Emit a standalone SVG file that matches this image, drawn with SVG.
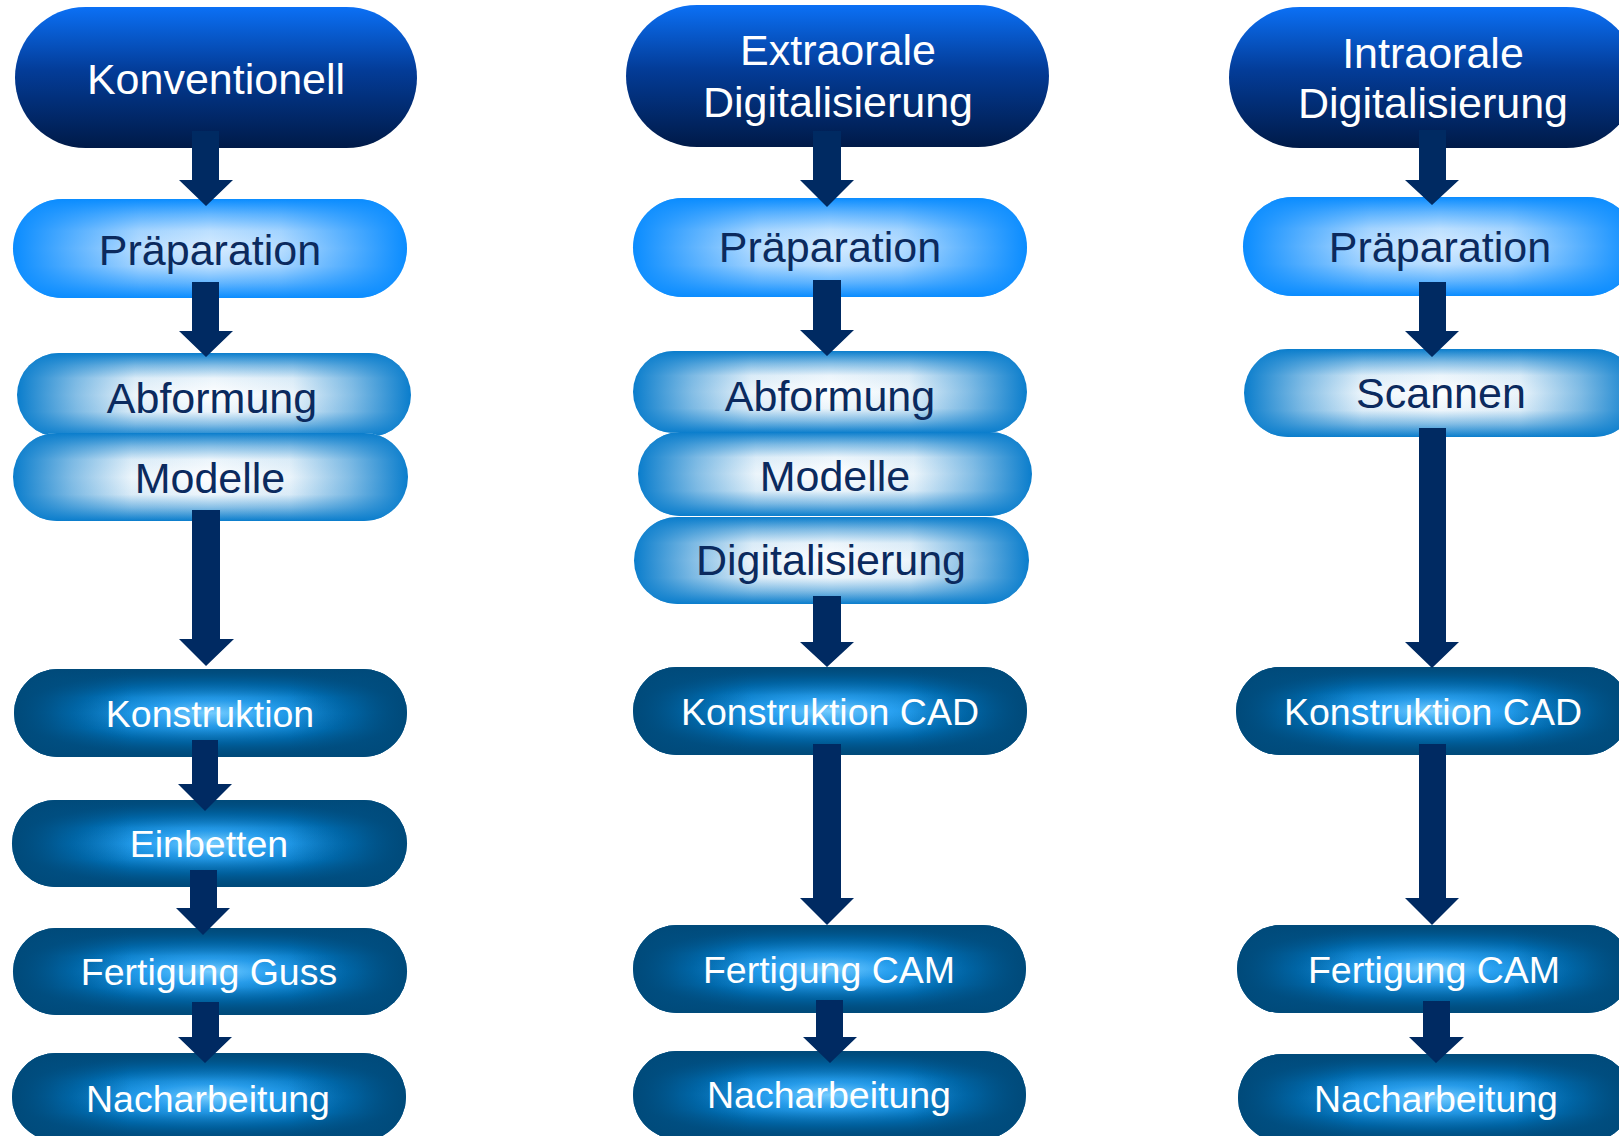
<svg xmlns="http://www.w3.org/2000/svg" width="1619" height="1136" viewBox="0 0 1619 1136">
<defs>
<linearGradient id="gTop" x1="0" y1="0" x2="0" y2="1">
<stop offset="0" stop-color="#0b70f5"/>
<stop offset="0.45" stop-color="#033c98"/>
<stop offset="1" stop-color="#001a48"/>
</linearGradient>
<!-- Präparation overlays -->
<linearGradient id="pV" x1="0" y1="0" x2="0" y2="1">
<stop offset="0" stop-color="#0a8cff" stop-opacity="1"/>
<stop offset="0.15" stop-color="#0a8cff" stop-opacity="0.6"/>
<stop offset="0.32" stop-color="#0a8cff" stop-opacity="0.2"/>
<stop offset="0.5" stop-color="#0a8cff" stop-opacity="0.08"/>
<stop offset="0.68" stop-color="#0a8cff" stop-opacity="0.2"/>
<stop offset="0.85" stop-color="#0a8cff" stop-opacity="0.6"/>
<stop offset="1" stop-color="#0a8cff" stop-opacity="1"/>
</linearGradient>
<linearGradient id="pH" x1="0" y1="0" x2="1" y2="0">
<stop offset="0" stop-color="#0a8cff" stop-opacity="1"/>
<stop offset="0.15" stop-color="#0a8cff" stop-opacity="0.6"/>
<stop offset="0.32" stop-color="#0a8cff" stop-opacity="0.15"/>
<stop offset="0.5" stop-color="#0a8cff" stop-opacity="0"/>
<stop offset="0.68" stop-color="#0a8cff" stop-opacity="0.15"/>
<stop offset="0.85" stop-color="#0a8cff" stop-opacity="0.6"/>
<stop offset="1" stop-color="#0a8cff" stop-opacity="1"/>
</linearGradient>
<!-- Light overlays -->
<linearGradient id="lV" x1="0" y1="0" x2="0" y2="1">
<stop offset="0" stop-color="#0a7dcc" stop-opacity="1"/>
<stop offset="0.15" stop-color="#0a7dcc" stop-opacity="0.5"/>
<stop offset="0.3" stop-color="#0a7dcc" stop-opacity="0.08"/>
<stop offset="0.5" stop-color="#0a7dcc" stop-opacity="0"/>
<stop offset="0.7" stop-color="#0a7dcc" stop-opacity="0.08"/>
<stop offset="0.85" stop-color="#0a7dcc" stop-opacity="0.5"/>
<stop offset="1" stop-color="#0a7dcc" stop-opacity="1"/>
</linearGradient>
<linearGradient id="lH" x1="0" y1="0" x2="1" y2="0">
<stop offset="0" stop-color="#0a7dcc" stop-opacity="1"/>
<stop offset="0.15" stop-color="#0a7dcc" stop-opacity="0.5"/>
<stop offset="0.3" stop-color="#0a7dcc" stop-opacity="0.08"/>
<stop offset="0.5" stop-color="#0a7dcc" stop-opacity="0"/>
<stop offset="0.7" stop-color="#0a7dcc" stop-opacity="0.08"/>
<stop offset="0.85" stop-color="#0a7dcc" stop-opacity="0.5"/>
<stop offset="1" stop-color="#0a7dcc" stop-opacity="1"/>
</linearGradient>
<!-- Dark -->
<radialGradient id="dB" cx="0.5" cy="0.5" r="0.5">
<stop offset="0" stop-color="#74ccff"/>
<stop offset="0.3" stop-color="#2aa2f2"/>
<stop offset="0.7" stop-color="#0078c4"/>
<stop offset="1" stop-color="#005a94"/>
</radialGradient>
<linearGradient id="dV" x1="0" y1="0" x2="0" y2="1">
<stop offset="0" stop-color="#004a7a" stop-opacity="1"/>
<stop offset="0.15" stop-color="#004a7a" stop-opacity="0.55"/>
<stop offset="0.32" stop-color="#004a7a" stop-opacity="0.1"/>
<stop offset="0.5" stop-color="#004a7a" stop-opacity="0"/>
<stop offset="0.68" stop-color="#004a7a" stop-opacity="0.1"/>
<stop offset="0.85" stop-color="#004a7a" stop-opacity="0.55"/>
<stop offset="1" stop-color="#004a7a" stop-opacity="1"/>
</linearGradient>
<linearGradient id="dH" x1="0" y1="0" x2="1" y2="0">
<stop offset="0" stop-color="#004a7a" stop-opacity="1"/>
<stop offset="0.12" stop-color="#004a7a" stop-opacity="0.5"/>
<stop offset="0.3" stop-color="#004a7a" stop-opacity="0"/>
<stop offset="0.7" stop-color="#004a7a" stop-opacity="0"/>
<stop offset="0.88" stop-color="#004a7a" stop-opacity="0.5"/>
<stop offset="1" stop-color="#004a7a" stop-opacity="1"/>
</linearGradient>
<style>
.top{fill:url(#gTop)}
.pb{fill:#e8f4ff}.pv{fill:url(#pV)}.ph{fill:url(#pH)}
.lb{fill:#ffffff}.lv{fill:url(#lV)}.lh{fill:url(#lH)}
.db{fill:url(#dB)}.dv{fill:url(#dV)}.dh{fill:url(#dH)}
text{font-family:"Liberation Sans",Arial,sans-serif;text-anchor:middle}
.tw{fill:#ffffff;font-size:43px}
.tn{fill:#0b2a5e;font-size:43px}
.ts{fill:#ffffff;font-size:37.5px}
.arrow{fill:#002a62}
</style>
</defs>
<rect width="1619" height="1136" fill="#ffffff"/>

<!-- Column 1 -->
<g id="k-konventionell"><rect class="top" x="15" y="7" width="402" height="141" rx="70.5"/><text class="tw" x="216" y="94">Konventionell</text></g>
<g id="k-praeparation"><rect class="pb" x="13" y="199" width="394" height="99" rx="49.5"/><rect class="pv" x="13" y="199" width="394" height="99" rx="49.5"/><rect class="ph" x="13" y="199" width="394" height="99" rx="49.5"/><text class="tn" x="210" y="265">Präparation</text></g>
<g id="k-abformung"><rect class="lb" x="17" y="353" width="394" height="84" rx="42"/><rect class="lv" x="17" y="353" width="394" height="84" rx="42"/><rect class="lh" x="17" y="353" width="394" height="84" rx="42"/><text class="tn" x="212" y="413">Abformung</text></g>
<g id="k-modelle"><rect class="lb" x="13" y="433" width="395" height="88" rx="44"/><rect class="lv" x="13" y="433" width="395" height="88" rx="44"/><rect class="lh" x="13" y="433" width="395" height="88" rx="44"/><text class="tn" x="210" y="493">Modelle</text></g>
<g id="k-konstruktion"><rect class="db" x="14" y="669" width="393" height="88" rx="44"/><rect class="dv" x="14" y="669" width="393" height="88" rx="44"/><rect class="dh" x="14" y="669" width="393" height="88" rx="44"/><text class="ts" x="210" y="727">Konstruktion</text></g>
<g id="k-einbetten"><rect class="db" x="12" y="800" width="395" height="87" rx="43.5"/><rect class="dv" x="12" y="800" width="395" height="87" rx="43.5"/><rect class="dh" x="12" y="800" width="395" height="87" rx="43.5"/><text class="ts" x="209" y="857">Einbetten</text></g>
<g id="k-fertigung"><rect class="db" x="13" y="928" width="394" height="87" rx="43.5"/><rect class="dv" x="13" y="928" width="394" height="87" rx="43.5"/><rect class="dh" x="13" y="928" width="394" height="87" rx="43.5"/><text class="ts" x="209" y="985">Fertigung Guss</text></g>
<g id="k-nacharbeitung"><rect class="db" x="12" y="1053" width="394" height="88" rx="44"/><rect class="dv" x="12" y="1053" width="394" height="88" rx="44"/><rect class="dh" x="12" y="1053" width="394" height="88" rx="44"/><text class="ts" x="208" y="1112">Nacharbeitung</text></g>

<!-- Column 2 -->
<g id="e-extraorale"><rect class="top" x="626" y="5" width="423" height="142" rx="71"/><text class="tw" x="838" y="65">Extraorale</text><text class="tw" x="838" y="117">Digitalisierung</text></g>
<g id="e-praeparation"><rect class="pb" x="633" y="198" width="394" height="99" rx="49.5"/><rect class="pv" x="633" y="198" width="394" height="99" rx="49.5"/><rect class="ph" x="633" y="198" width="394" height="99" rx="49.5"/><text class="tn" x="830" y="262">Präparation</text></g>
<g id="e-abformung"><rect class="lb" x="633" y="351" width="394" height="82" rx="41"/><rect class="lv" x="633" y="351" width="394" height="82" rx="41"/><rect class="lh" x="633" y="351" width="394" height="82" rx="41"/><text class="tn" x="830" y="411">Abformung</text></g>
<g id="e-modelle"><rect class="lb" x="638" y="432" width="394" height="84" rx="42"/><rect class="lv" x="638" y="432" width="394" height="84" rx="42"/><rect class="lh" x="638" y="432" width="394" height="84" rx="42"/><text class="tn" x="835" y="491">Modelle</text></g>
<g id="e-digitalisierung"><rect class="lb" x="634" y="517" width="395" height="87" rx="43.5"/><rect class="lv" x="634" y="517" width="395" height="87" rx="43.5"/><rect class="lh" x="634" y="517" width="395" height="87" rx="43.5"/><text class="tn" x="831" y="575">Digitalisierung</text></g>
<g id="e-konstruktion"><rect class="db" x="633" y="667" width="394" height="88" rx="44"/><rect class="dv" x="633" y="667" width="394" height="88" rx="44"/><rect class="dh" x="633" y="667" width="394" height="88" rx="44"/><text class="ts" x="830" y="725">Konstruktion CAD</text></g>
<g id="e-fertigung"><rect class="db" x="633" y="925" width="393" height="88" rx="44"/><rect class="dv" x="633" y="925" width="393" height="88" rx="44"/><rect class="dh" x="633" y="925" width="393" height="88" rx="44"/><text class="ts" x="829" y="983">Fertigung CAM</text></g>
<g id="e-nacharbeitung"><rect class="db" x="633" y="1051" width="393" height="88" rx="44"/><rect class="dv" x="633" y="1051" width="393" height="88" rx="44"/><rect class="dh" x="633" y="1051" width="393" height="88" rx="44"/><text class="ts" x="829" y="1108">Nacharbeitung</text></g>

<!-- Column 3 -->
<g id="i-intraorale"><rect class="top" x="1229" y="7" width="408" height="141" rx="70.5"/><text class="tw" x="1433" y="68">Intraorale</text><text class="tw" x="1433" y="118">Digitalisierung</text></g>
<g id="i-praeparation"><rect class="pb" x="1243" y="197" width="394" height="99" rx="49.5"/><rect class="pv" x="1243" y="197" width="394" height="99" rx="49.5"/><rect class="ph" x="1243" y="197" width="394" height="99" rx="49.5"/><text class="tn" x="1440" y="262">Präparation</text></g>
<g id="i-scannen"><rect class="lb" x="1244" y="349" width="394" height="88" rx="44"/><rect class="lv" x="1244" y="349" width="394" height="88" rx="44"/><rect class="lh" x="1244" y="349" width="394" height="88" rx="44"/><text class="tn" x="1441" y="408">Scannen</text></g>
<g id="i-konstruktion"><rect class="db" x="1236" y="667" width="394" height="88" rx="44"/><rect class="dv" x="1236" y="667" width="394" height="88" rx="44"/><rect class="dh" x="1236" y="667" width="394" height="88" rx="44"/><text class="ts" x="1433" y="725">Konstruktion CAD</text></g>
<g id="i-fertigung"><rect class="db" x="1237" y="925" width="394" height="88" rx="44"/><rect class="dv" x="1237" y="925" width="394" height="88" rx="44"/><rect class="dh" x="1237" y="925" width="394" height="88" rx="44"/><text class="ts" x="1434" y="983">Fertigung CAM</text></g>
<g id="i-nacharbeitung"><rect class="db" x="1238" y="1054" width="394" height="88" rx="44"/><rect class="dv" x="1238" y="1054" width="394" height="88" rx="44"/><rect class="dh" x="1238" y="1054" width="394" height="88" rx="44"/><text class="ts" x="1436" y="1112">Nacharbeitung</text></g>

<!-- Connectors -->
<g id="connectors">
<polygon class="arrow" points="192,131 219,131 219,180 233,180 206,206 179,180 192,180"/>
<polygon class="arrow" points="192,282 219,282 219,331 233,331 206,357 179,331 192,331"/>
<polygon class="arrow" points="192,510 220,510 220,639 234,639 206,666 179,639 192,639"/>
<polygon class="arrow" points="192,740 218,740 218,784 232,784 205,811 178,784 192,784"/>
<polygon class="arrow" points="190,870 217,870 217,908 230,908 203,935 176,908 190,908"/>
<polygon class="arrow" points="192,1002 219,1002 219,1037 232,1037 205,1063 178,1037 192,1037"/>

<polygon class="arrow" points="813,131 841,131 841,180 854,180 827,207 800,180 813,180"/>
<polygon class="arrow" points="813,280 841,280 841,330 854,330 827,356 800,330 813,330"/>
<polygon class="arrow" points="813,596 841,596 841,642 854,642 827,667 800,642 813,642"/>
<polygon class="arrow" points="813,744 841,744 841,898 854,898 827,925 800,898 813,898"/>
<polygon class="arrow" points="816,1000 843,1000 843,1037 857,1037 830,1063 803,1037 816,1037"/>

<polygon class="arrow" points="1419,130 1446,130 1446,180 1459,180 1432,205 1405,180 1419,180"/>
<polygon class="arrow" points="1419,282 1446,282 1446,331 1459,331 1432,357 1405,331 1419,331"/>
<polygon class="arrow" points="1419,428 1446,428 1446,642 1459,642 1432,668 1405,642 1419,642"/>
<polygon class="arrow" points="1419,744 1446,744 1446,898 1459,898 1432,925 1405,898 1419,898"/>
<polygon class="arrow" points="1423,1001 1450,1001 1450,1037 1464,1037 1436,1063 1409,1037 1423,1037"/>
</g>
</svg>
